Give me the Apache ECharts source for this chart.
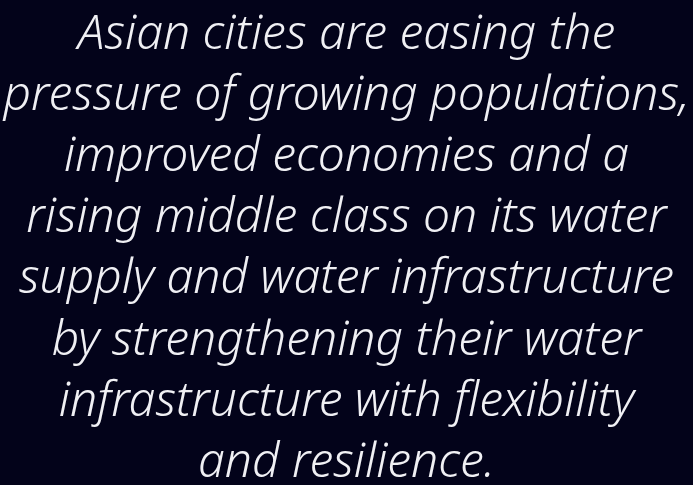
<!DOCTYPE html>
<html>
<head>
<meta charset="utf-8">
<script src="https://cdn.jsdelivr.net/npm/echarts@6/dist/echarts.min.js"></script>
<style>
  html, body { margin: 0; padding: 0; background: #03031a; }
  #chart { width: 693px; height: 485px; }
</style>
</head>
<body>
<div id="chart"></div>
<script>
const lines = [
    "Asian cities are easing the",
    "pressure of growing populations,",
    "improved economies and a",
    "rising middle class on its water",
    "supply and water infrastructure",
    "by strengthening their water",
    "infrastructure with flexibility",
    "and resilience."
];

const chart = echarts.init(document.getElementById("chart"));

// one text element per line, centred
const lineGap = 61.1;
const firstMid = 35.4;

const elements = lines.map((line, i) => ({
    type: "text",
    x: 346.5,
    y: firstMid + i * lineGap,
    style: {
        text: line,
        fill: "#f0f0f4",
        font: "italic 300 48px 'Noto Sans'",
        align: "center",
        verticalAlign: "middle"
    }
}));

chart.setOption({
    backgroundColor: "#03031a",
    graphic: elements
});
</script>
</body>
</html>
